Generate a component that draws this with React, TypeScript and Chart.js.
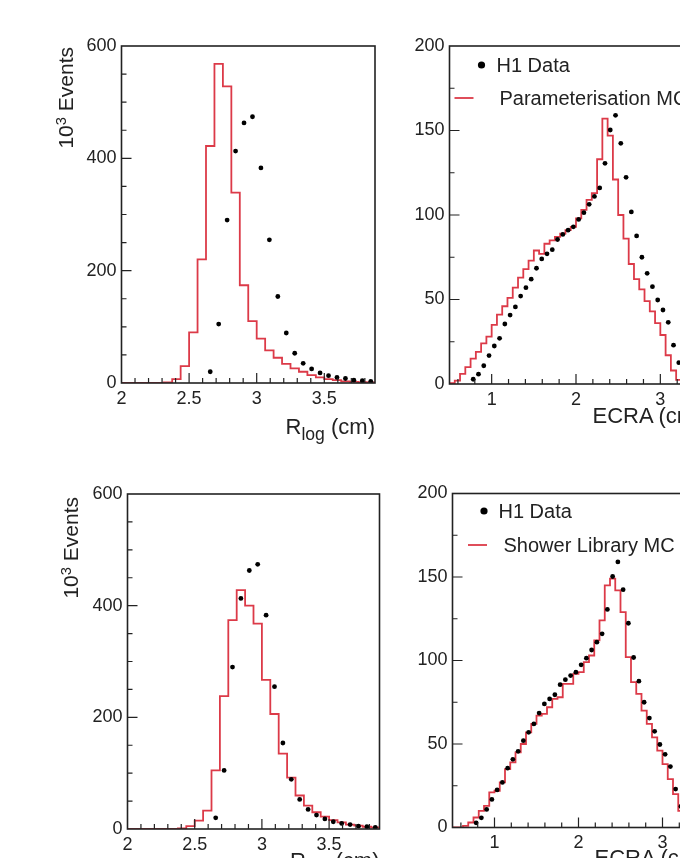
import React, { useEffect, useRef } from "react";
import { Chart, registerables } from "chart.js";

Chart.register(...registerables);

const FONT = '"Liberation Sans", Arial, Helvetica, sans-serif';
const INK = "#222222";
const MC_RED = "#dc3a48";

// ---------- R_log histograms: 30 bins of 0.0625 cm from 2.0 ----------
const RLOG_MIN = 2.0;
const RLOG_MAX = 3.875;
const RLOG_BIN_WIDTH = 0.0625;
const RLOG_X_TICKS = [2, 2.5, 3, 3.5];
const RLOG_Y_TICKS = [0, 200, 400, 600];
const RLOG_H1_DATA = [
  null, null, null, null, null, null, null, null, null, null,
  20, 105, 290, 413, 463, 474, 383, 255, 154, 89,
  53, 35, 25, 18, 13, 10, 8, 5, 4, 3,
];
const RLOG_PARAM_MC = [
  0, 0, 0, 0, 0, 1, 7, 30, 90, 220,
  422, 568, 528, 339, 174, 110, 79, 58, 45, 34,
  26, 20, 14, 10, 7, 5, 3, 2, 1.5, 1,
];
const RLOG_SHOWER_MC = [
  0, 0, 0, 0, 0, 0, 1, 5, 15, 33,
  105, 238, 374, 428, 400, 368, 267, 206, 135, 92,
  60, 42, 30, 22, 16, 12, 8, 6, 4, 3,
];

// ---------- ECRA histograms: 48 bins of 0.0625 cm from 0.5 ----------
const ECRA_MIN = 0.5;
const ECRA_MAX = 3.5;
const ECRA_BIN_WIDTH = 0.0625;
const ECRA_X_TICKS = [1, 2, 3];
const ECRA_Y_TICKS = [0, 50, 100, 150, 200];
const ECRA_H1_DATA = [
  null, null, null, null, 2.8, 5.8, 10.8, 16.8, 22.5, 27,
  35.5, 40.8, 45.6, 52, 57, 62, 68.5, 74, 77, 79.5,
  85.5, 88.5, 91, 93, 97.4, 101.4, 106.3, 111, 116, 130.6,
  150.3, 159, 142.4, 122.3, 101.8, 87.6, 75, 65.5, 57.6, 49.7,
  43.8, 36.5, 23, 12.6, 7.3, 4, 2, 1,
];
const ECRA_PARAM_MC = [
  0.5, 2, 6, 10, 15, 19, 24, 28, 35, 41,
  46, 51, 57, 63, 68, 73, 79, 77, 83, 85,
  87, 89, 91, 93, 98, 103, 109, 113, 133, 157,
  147, 121, 100, 86, 71, 62, 56, 49, 43, 36,
  29, 17, 8, 2.5, 0, 0, 0, 0,
];
const ECRA_SHOWER_MC = [
  0, 0, 1, 3, 6, 10, 13, 21, 22, 27,
  35, 39, 45, 50, 57, 62, 67, 68, 72, 77,
  78, 86, 86, 92, 93, 99, 103, 112, 124, 145,
  149, 142, 129, 102, 87, 80, 70, 62, 54, 46,
  38, 29, 20, 10, 4, 1, 0, 0,
];

const DATA_LABEL = "H1 Data";
const PARAM_LABEL = "Parameterisation MC";
const SHOWER_LABEL = "Shower Library MC";

// ---------- layout constants ----------
const PAGE = 8;
const OFF_L = 115;
const OFF_T = 40;
const OFF_R = 20;
const OFF_B = 45;
const Y_W = 45;
const X_H = 30;

type Legend = {
  dot: [number, number];
  dataText: [number, number];
  dash: [number, number, number];
  mcText: [number, number];
  mcLabel: string;
};

type Spec = {
  frame: { l: number; t: number; r: number; b: number };
  xMin: number; xMax: number; yMin: number; yMax: number;
  xTicks: number[]; yTicks: number[];
  xMinor: number; yMinor: number;
  binStart: number; binWidth: number;
  data: (number | null)[]; mc: number[];
  legend?: Legend;
};

function minorTicks(min: number, max: number, step: number, majors: number[]) {
  const out: number[] = [];
  for (let k = Math.ceil(min / step - 1e-9); k * step <= max + 1e-9; k++) {
    const v = k * step;
    if (!majors.some((m) => Math.abs(m - v) < 1e-6)) out.push(v);
  }
  return out;
}

function framePlugin(spec: Spec) {
  return {
    id: "rootFrame",
    afterDraw(chart: any) {
      const { ctx, chartArea: a } = chart;
      const xs = chart.scales.x;
      const ys = chart.scales.y;
      ctx.save();
      ctx.strokeStyle = INK;
      ctx.lineWidth = 1.2;
      ctx.beginPath();
      const tickX = (v: number, len: number) => {
        const px = xs.getPixelForValue(v);
        if (px <= a.left + 0.5 || px >= a.right - 0.5) return;
        ctx.moveTo(px, a.bottom);
        ctx.lineTo(px, a.bottom - len);
      };
      const tickY = (v: number, len: number) => {
        const py = ys.getPixelForValue(v);
        if (py <= a.top + 0.5 || py >= a.bottom - 0.5) return;
        ctx.moveTo(a.left, py);
        ctx.lineTo(a.left + len, py);
      };
      spec.xTicks.forEach((v) => tickX(v, 10));
      minorTicks(spec.xMin, spec.xMax, spec.xMinor, spec.xTicks).forEach((v) => tickX(v, 5));
      spec.yTicks.forEach((v) => tickY(v, 10));
      minorTicks(spec.yMin, spec.yMax, spec.yMinor, spec.yTicks).forEach((v) => tickY(v, 5));
      ctx.stroke();
      ctx.lineWidth = 1.6;
      ctx.strokeRect(a.left, a.top, a.right - a.left, a.bottom - a.top);

      const lg = spec.legend;
      if (lg) {
        ctx.fillStyle = "#000";
        ctx.beginPath();
        ctx.arc(a.left + lg.dot[0], a.top + lg.dot[1], 3.6, 0, Math.PI * 2);
        ctx.fill();
        ctx.strokeStyle = MC_RED;
        ctx.lineWidth = 1.8;
        ctx.beginPath();
        ctx.moveTo(a.left + lg.dash[0], a.top + lg.dash[2]);
        ctx.lineTo(a.left + lg.dash[1], a.top + lg.dash[2]);
        ctx.stroke();
        ctx.fillStyle = INK;
        ctx.font = `20px ${FONT}`;
        ctx.textAlign = "left";
        ctx.textBaseline = "alphabetic";
        ctx.fillText(DATA_LABEL, a.left + lg.dataText[0], a.top + lg.dataText[1] + 7.2);
        ctx.fillText(lg.mcLabel, a.left + lg.mcText[0], a.top + lg.mcText[1] + 7.2);
      }
      ctx.restore();
    },
  };
}

function Panel({ spec }: { spec: Spec }) {
  const ref = useRef<HTMLCanvasElement | null>(null);
  const f = spec.frame;
  const cLeft = Math.round(f.l - PAGE - OFF_L);
  const cTop = Math.round(f.t - PAGE - OFF_T);
  const width = Math.ceil(f.r - PAGE + OFF_R - cLeft);
  const height = Math.ceil(f.b - PAGE + OFF_B - cTop);
  const padLeft = f.l - PAGE - cLeft - Y_W;
  const padTop = f.t - PAGE - cTop;
  const padRight = width - (f.r - PAGE - cLeft);
  const padBottom = height - (f.b - PAGE - cTop) - X_H;

  useEffect(() => {
    if (!ref.current) return;
    const points = spec.data
      .map((v, i) => (v == null ? null : { x: spec.binStart + (i + 0.5) * spec.binWidth, y: v }))
      .filter((p) => p !== null);
    const n = spec.mc.length;
    const steps = spec.mc
      .map((v, i) => ({ x: spec.binStart + i * spec.binWidth, y: v }))
      .concat([{ x: spec.binStart + n * spec.binWidth, y: spec.mc[n - 1] }]);

    const tickFont = { family: FONT, size: 18 };
    const chart = new Chart(ref.current, {
      type: "line",
      data: {
        datasets: [
          {
            data: points as any,
            showLine: false,
            pointRadius: 2.4,
            pointBackgroundColor: "#000",
            pointBorderWidth: 0,
            borderColor: "#000",
          },
          {
            data: steps as any,
            stepped: "before",
            borderColor: MC_RED,
            borderWidth: 1.8,
            pointRadius: 0,
            fill: false,
            tension: 0,
          },
        ],
      },
      options: {
        animation: false,
        responsive: false,
        events: [],
        layout: { padding: { left: padLeft, top: padTop, right: padRight, bottom: padBottom } },
        plugins: { legend: { display: false }, tooltip: { enabled: false } },
        scales: {
          x: {
            type: "linear",
            min: spec.xMin,
            max: spec.xMax,
            grid: { display: false, drawTicks: false },
            border: { display: false },
            ticks: {
              color: INK,
              font: tickFont,
              padding: 5,
              autoSkip: false,
              maxRotation: 0,
              minRotation: 0,
              callback: (v: any) => String(v),
            },
            afterBuildTicks: (s: any) => {
              s.ticks = spec.xTicks.map((value) => ({ value }));
            },
            afterFit: (s: any) => {
              s.height = X_H;
            },
          },
          y: {
            type: "linear",
            min: spec.yMin,
            max: spec.yMax,
            grid: { display: false, drawTicks: false },
            border: { display: false },
            ticks: {
              color: INK,
              font: tickFont,
              padding: 5,
              callback: (v: any) => String(v),
            },
            afterBuildTicks: (s: any) => {
              s.ticks = spec.yTicks.map((value) => ({ value }));
            },
            afterFit: (s: any) => {
              s.width = Y_W;
            },
          },
        },
      } as any,
      plugins: [framePlugin(spec)],
    });
    return () => chart.destroy();
  }, []);

  return (
    <canvas
      ref={ref}
      width={width}
      height={height}
      style={{ position: "absolute", left: cLeft, top: cTop, width, height }}
    />
  );
}

const TL: Spec = {
  frame: { l: 121.5, t: 46, r: 375, b: 383 },
  xMin: RLOG_MIN, xMax: RLOG_MAX, yMin: 0, yMax: 600,
  xTicks: RLOG_X_TICKS, yTicks: RLOG_Y_TICKS, xMinor: 0.1, yMinor: 50,
  binStart: RLOG_MIN, binWidth: RLOG_BIN_WIDTH,
  data: RLOG_H1_DATA, mc: RLOG_PARAM_MC,
};
const TR: Spec = {
  frame: { l: 449.5, t: 46, r: 702.5, b: 384 },
  xMin: ECRA_MIN, xMax: ECRA_MAX, yMin: 0, yMax: 200,
  xTicks: ECRA_X_TICKS, yTicks: ECRA_Y_TICKS, xMinor: 0.2, yMinor: 25,
  binStart: ECRA_MIN, binWidth: ECRA_BIN_WIDTH,
  data: ECRA_H1_DATA, mc: ECRA_PARAM_MC,
  legend: { dot: [32, 19], dataText: [47, 19], dash: [5, 24, 52], mcText: [50, 52], mcLabel: PARAM_LABEL },
};
const BL: Spec = {
  frame: { l: 127.5, t: 494, r: 379.5, b: 829 },
  xMin: RLOG_MIN, xMax: RLOG_MAX, yMin: 0, yMax: 600,
  xTicks: RLOG_X_TICKS, yTicks: RLOG_Y_TICKS, xMinor: 0.1, yMinor: 50,
  binStart: RLOG_MIN, binWidth: RLOG_BIN_WIDTH,
  data: RLOG_H1_DATA, mc: RLOG_SHOWER_MC,
};
const BR: Spec = {
  frame: { l: 452.5, t: 493.5, r: 704.5, b: 827.5 },
  xMin: ECRA_MIN, xMax: ECRA_MAX, yMin: 0, yMax: 200,
  xTicks: ECRA_X_TICKS, yTicks: ECRA_Y_TICKS, xMinor: 0.2, yMinor: 25,
  binStart: ECRA_MIN, binWidth: ECRA_BIN_WIDTH,
  data: ECRA_H1_DATA, mc: ECRA_SHOWER_MC,
  legend: { dot: [31.5, 17.5], dataText: [46, 17.5], dash: [15.5, 34.5, 51.5], mcText: [51, 51.5], mcLabel: SHOWER_LABEL },
};

const titleBase: React.CSSProperties = {
  position: "absolute",
  fontFamily: FONT,
  color: INK,
  whiteSpace: "nowrap",
};

function YTitle({ x, topEnd }: { x: number; topEnd: number }) {
  const W = 200;
  return (
    <div
      style={{
        ...titleBase,
        left: x - PAGE,
        top: topEnd - PAGE + W,
        width: W,
        height: 21,
        fontSize: 21,
        lineHeight: "21px",
        textAlign: "right",
        transformOrigin: "0 0",
        transform: "rotate(-90deg)",
      }}
    >
      10<span style={{ fontSize: "0.7em", position: "relative", top: "-0.45em" }}>3</span> Events
    </div>
  );
}

function XTitle({ right, baseline, sub }: { right: number; baseline: number; sub: boolean }) {
  const W = 300;
  return (
    <div
      style={{
        ...titleBase,
        left: right - PAGE - W,
        top: baseline - PAGE - 18.6,
        width: W,
        height: 22,
        fontSize: 22,
        lineHeight: "22px",
        textAlign: "right",
      }}
    >
      {sub ? (
        <>
          R<span style={{ fontSize: "0.8em", position: "relative", top: "0.3em" }}>log</span> (cm)
        </>
      ) : (
        "ECRA (cm)"
      )}
    </div>
  );
}

export default function App() {
  return (
    <div style={{ position: "relative", width: 680, height: 850, overflow: "hidden", background: "#fff" }}>
      <Panel spec={TL} />
      <Panel spec={TR} />
      <Panel spec={BL} />
      <Panel spec={BR} />
      <YTitle x={55} topEnd={47} />
      <YTitle x={60} topEnd={497} />
      <XTitle right={375} baseline={435} sub={true} />
      <XTitle right={702.5} baseline={424} sub={false} />
      <XTitle right={379.5} baseline={869} sub={true} />
      <XTitle right={704.5} baseline={866} sub={false} />
    </div>
  );
}
